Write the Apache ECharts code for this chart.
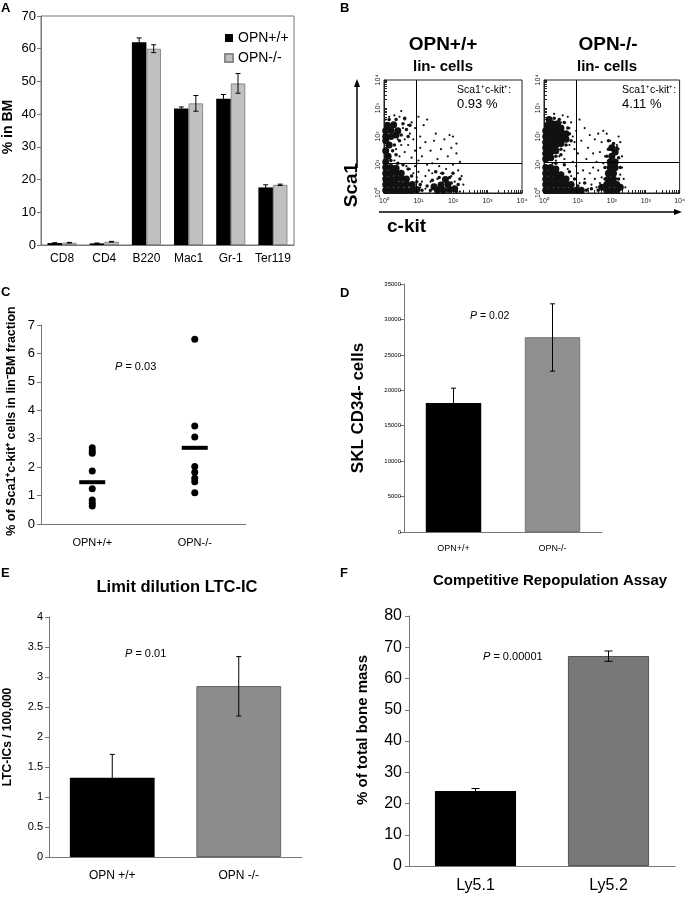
<!DOCTYPE html>
<html><head><meta charset="utf-8">
<script src="https://cdn.jsdelivr.net/npm/echarts@6/dist/echarts.min.js"></script>
<style>html,body{margin:0;padding:0;background:#fff}#c{width:688px;height:899px}</style>
</head><body><div id="c"></div>
<script>
const FONT = 'Liberation Sans, Arial, Helvetica, sans-serif';

// ---------- Panel A ----------
const aCategories = ['CD8','CD4','B220','Mac1','Gr-1','Ter119'];
const aWT = [0.6, 0.5, 62.0, 41.7, 44.7, 17.6];
const aKO = [0.7, 1.0, 60.0, 43.3, 49.4, 18.4];
const aWTErr = [0.1, 0.1, 1.3, 0.5, 1.3, 0.8];
const aKOErr = [0.1, 0.1, 1.2, 2.4, 3.0, 0.2];

// ---------- Panel B (flow cytometry, log10 decades) ----------
const flowTickLabels = ['10\u2070','10\u00b9','10\u00b2','10\u00b3','10\u2074'];
const gateX = [0.94, 0.94];
const gateY = [1.06, 1.09];
const flowWTCore = [
 [0.05,0.1],[0.2,0.1],[0.35,0.1],[0.5,0.1],[0.65,0.1],[0.8,0.1],[0.95,0.12],
 [0.05,0.3],[0.2,0.3],[0.35,0.3],[0.5,0.3],[0.65,0.32],[0.82,0.3],
 [0.05,0.5],[0.2,0.5],[0.35,0.5],[0.5,0.52],[0.65,0.5],
 [0.05,0.7],[0.2,0.7],[0.35,0.72],[0.5,0.7],
 [0.05,0.9],[0.2,0.9],[0.35,0.88],
 [0.05,1.1],[0.12,1.3],[0.05,1.5],[0.15,1.7],[0.05,1.85],
 [0.05,2.0],[0.2,2.0],[0.35,2.05],[0.05,2.2],[0.2,2.22],[0.4,2.2],[0.1,2.4],[0.28,2.42],
 [1.55,0.1],[1.72,0.1],[1.9,0.12],[2.05,0.15],[1.65,0.28],[1.85,0.3],[1.45,0.22],[1.78,0.48]
];
const flowWTMid = [
 [0.55,2.45],[0.65,2.25],[0.5,2.05],[0.7,2.0],[0.45,1.85],[0.3,1.7],[0.25,1.5],[0.35,1.35],[0.2,1.15],[0.4,1.05],
 [0.55,1.0],[0.7,0.85],[0.8,0.6],[0.95,0.4],[1.05,0.3],[1.1,0.1],[1.25,0.25],[1.35,0.1],[1.4,0.45],[1.6,0.55],
 [1.95,0.35],[2.1,0.05],[2.15,0.3],[1.9,0.55],[1.7,0.7],[2.0,0.7],[1.5,0.75],[2.2,0.5],[0.6,2.65],[0.35,2.6],
 [0.15,2.6],[0.75,2.4]
];
const flowWTSparse = [
 [0.6,2.6],[0.45,2.7],[0.3,2.75],[0.7,2.4],[0.55,2.3],[0.75,2.1],[0.6,1.9],[0.5,1.7],[0.35,1.55],[0.45,1.3],
 [0.3,1.15],[0.6,1.45],[0.7,1.7],[0.8,2.5],[0.9,2.3],[0.15,2.7],[0.05,2.6],[0.5,2.9],[0.85,1.9],[0.4,1.9],
 [1.0,2.7],[1.15,2.4],[1.25,2.6],[1.05,2.0],[1.2,1.8],[1.35,1.5],[1.1,1.3],[1.45,1.85],[1.55,1.2],[1.65,1.55],
 [1.75,1.9],[1.85,1.3],[1.95,1.6],[2.1,1.4],[2.2,1.1],[1.4,1.05],[1.6,0.95],[1.8,0.85],[2.0,1.0],[2.15,0.8],
 [2.25,0.6],[1.3,0.8],[1.2,0.6],[1.1,0.4],[1.0,0.75],[0.95,0.55],[1.05,0.2],[1.2,0.15],[1.35,0.4],[1.4,0.7],
 [2.3,0.3],[2.2,0.05],[1.55,0.5],[1.65,0.7],[1.95,0.6],[2.05,0.4],[0.9,0.95],[0.75,0.85],[0.65,0.95],[0.85,0.7],
 [1.0,1.15],[0.9,1.5],[1.05,1.6],[0.8,1.25],[2.0,2.0],[1.5,2.1],[1.9,2.05],[2.1,1.75],[0.95,1.05],[1.25,1.0]
];
const flowKOCore = [
 [0.05,0.1],[0.2,0.1],[0.35,0.1],[0.5,0.1],[0.65,0.1],[0.8,0.1],[0.95,0.1],[1.1,0.1],
 [0.05,0.3],[0.2,0.3],[0.35,0.3],[0.5,0.3],[0.65,0.3],[0.8,0.3],
 [0.05,0.5],[0.2,0.5],[0.35,0.5],[0.5,0.5],[0.65,0.5],
 [0.05,0.7],[0.2,0.7],[0.35,0.7],[0.5,0.65],
 [0.05,0.9],[0.2,0.9],[0.35,0.85],
 [0.05,1.2],[0.2,1.25],[0.05,1.4],[0.2,1.45],[0.35,1.5],[0.05,1.6],[0.2,1.65],[0.35,1.7],[0.5,1.75],
 [0.05,1.8],[0.2,1.85],[0.35,1.9],[0.5,1.95],[0.65,1.9],[0.05,2.0],[0.2,2.05],[0.35,2.1],[0.5,2.15],
 [0.65,2.1],[0.05,2.2],[0.2,2.25],[0.35,2.3],[0.5,2.3],[0.1,2.4],[0.25,2.45],[0.4,2.45],[0.15,2.6],
 [1.85,0.1],[2.0,0.1],[2.15,0.1],[1.85,0.3],[2.0,0.3],[2.15,0.3],[1.9,0.5],[2.05,0.5],[1.9,0.7],
 [2.05,0.7],[1.95,0.9],[2.1,0.9],[1.95,1.1],[2.1,1.1],[2.0,1.3],[2.1,1.45],[2.0,1.6],[1.7,0.2],[2.25,0.2]
];
const flowKOMid = [
 [0.6,2.5],[0.7,2.3],[0.75,2.1],[0.8,1.85],[0.65,1.7],[0.5,1.55],[0.35,1.3],[0.5,1.35],[0.6,1.0],[0.75,0.75],
 [0.9,0.5],[1.0,0.25],[1.25,0.1],[1.4,0.15],[1.2,0.35],[1.6,0.1],[1.8,0.5],[1.8,0.9],[1.85,1.3],[1.9,1.55],
 [2.2,0.5],[2.25,0.9],[2.2,1.25],[2.05,1.75],[1.9,1.85],[2.15,1.6],[0.45,2.6],[0.3,2.65],[0.35,1.05]
];
const flowKOSparse = [
 [0.7,2.7],[0.55,2.75],[0.3,2.8],[0.8,2.5],[0.75,2.3],[0.85,2.0],[0.75,1.7],[0.6,1.5],[0.45,1.3],[0.35,1.15],
 [0.6,1.2],[0.95,2.2],[0.9,1.8],[1.0,1.4],[0.85,1.1],[1.05,2.6],[1.2,2.3],[1.35,2.05],[1.5,1.9],[1.6,2.1],
 [1.7,1.8],[1.3,1.6],[1.45,1.4],[1.25,1.2],[1.55,1.1],[1.65,1.45],[1.75,2.2],[1.8,1.3],[1.75,1.05],[2.25,1.8],
 [2.3,1.3],[2.2,2.0],[1.85,2.1],[2.3,0.9],[2.35,0.5],[2.25,0.65],[1.6,0.8],[1.5,0.5],[1.4,0.3],[1.3,0.15],
 [1.2,0.5],[1.05,0.35],[1.15,0.8],[1.0,0.7],[0.95,0.95],[0.8,0.6],[0.7,0.85],[1.35,0.7],[1.7,0.55],[2.4,0.2],
 [1.45,0.9],[2.2,1.55],[0.9,1.55],[1.1,1.85],[0.5,2.5],[1.55,0.2],[1.65,0.35],[1.95,1.85],[2.15,1.7],[0.25,1.05]
];

// ---------- Panel C ----------
const cCategories = ['OPN+/+','OPN-/-'];
const cWT = [2.68, 2.57, 2.49, 1.86, 1.24, 0.84, 0.73, 0.63];
const cKO = [6.5, 3.45, 3.06, 2.02, 1.82, 1.61, 1.49, 1.10];
const cMeans = [1.47, 2.68];

// ---------- Panel D ----------
const dCategories = ['OPN+/+','OPN-/-'];
const dValues = [18200, 27500];
const dLow = [16100, 22700];
const dHigh = [20300, 32200];

// ---------- Panel E ----------
const eCategories = ['OPN +/+','OPN -/-'];
const eValues = [1.32, 2.85];
const eLow = [0.93, 2.35];
const eHigh = [1.71, 3.34];

// ---------- Panel F ----------
const fCategories = ['Ly5.1','Ly5.2'];
const fValues = [24.0, 67.2];
const fLow = [23.2, 65.5];
const fHigh = [24.8, 68.8];

// ---------- helpers ----------
const flowMinor = [];
[0,1,2,3].forEach(d => { for (let m = 1; m <= 9; m++) flowMinor.push(d + Math.log10(m)); });
flowMinor.push(4);

function errRender(offFrac, cap) {
  return function (params, api) {
    const x = api.value(0), lo = api.value(1), hi = api.value(2);
    const p1 = api.coord([x, lo]), p2 = api.coord([x, hi]);
    const bw = api.size([1, 0])[0];
    const cx = p1[0] + offFrac * bw;
    const st = { stroke: '#000', lineWidth: 1 };
    return { type: 'group', children: [
      { type: 'line', shape: { x1: cx, y1: p1[1], x2: cx, y2: p2[1] }, style: st },
      { type: 'line', shape: { x1: cx - cap, y1: p1[1], x2: cx + cap, y2: p1[1] }, style: st },
      { type: 'line', shape: { x1: cx - cap, y1: p2[1], x2: cx + cap, y2: p2[1] }, style: st }
    ]};
  };
}
function catX(gi, cats, fontSize, margin) {
  return { gridIndex: gi, type: 'category', data: cats,
    axisLine: { lineStyle: { color: '#777' } },
    axisTick: { length: 4, lineStyle: { color: '#777' } },
    axisLabel: { color: '#000', fontSize, margin, interval: 0, fontFamily: FONT },
    splitLine: { show: false } };
}
function valY(gi, max, interval, fontSize, margin) {
  return { gridIndex: gi, type: 'value', min: 0, max, interval,
    axisLine: { show: true, lineStyle: { color: '#777' } },
    axisTick: { show: true, length: 4, lineStyle: { color: '#777' } },
    axisLabel: { color: '#000', fontSize, margin, fontFamily: FONT, formatter: v => String(v) },
    splitLine: { show: false } };
}
function flowAxis(gi, isY) {
  return { gridIndex: gi, type: 'value', min: 0, max: 4, interval: 1,
    axisLine: { show: true, lineStyle: { color: '#222' } },
    axisTick: { show: true, inside: true, length: 3, customValues: flowMinor, lineStyle: { color: '#222' } },
    axisLabel: { color: '#222', fontSize: 7, margin: isY ? 2 : 5, rotate: isY ? 90 : 0,
      fontFamily: FONT, formatter: v => flowTickLabels[Math.round(v)] },
    splitLine: { show: false } };
}
function errData(lo, hi) { return lo.map((l, i) => [i, l, hi[i]]); }
function txt(x, y, text, font, opts) {
  return Object.assign({ type: 'text', x, y, style: Object.assign({ text, font, fill: '#000',
    textAlign: 'left', textVerticalAlign: 'middle' }, (opts && opts.style) || {}) },
    (opts && opts.rotation !== undefined) ? { rotation: opts.rotation } : {});
}
function ptxt(x, y, val, size) {
  return { type: 'text', x, y, style: { text: '{i|P} = ' + val, font: size + 'px ' + FONT, fill: '#000',
    textAlign: 'left', textVerticalAlign: 'middle', rich: { i: { fontStyle: 'italic', fontSize: size, fontFamily: FONT } } } };
}

const gateLine = (gi) => ({ symbol: 'none', silent: true, label: { show: false },
  lineStyle: { color: '#000', width: 1, type: 'solid' },
  data: [{ xAxis: gateX[gi] }, { yAxis: gateY[gi] }] });

const solid = { color: '#111', opacity: 1 };
function flowSeries(gi, data, size, extra) {
  return Object.assign({ type: 'scatter', xAxisIndex: gi, yAxisIndex: gi, data, symbolSize: size,
    itemStyle: solid, silent: true }, extra || {});
}

const option = {
  animation: false,
  textStyle: { fontFamily: FONT },
  grid: [
    { left: 41, top: 16, width: 253, height: 229, show: true, borderColor: '#777', borderWidth: 1 },
    { left: 384, top: 80, width: 138, height: 113, show: true, borderColor: '#222', borderWidth: 1 },
    { left: 544, top: 80, width: 139, height: 113, show: true, borderColor: '#222', borderWidth: 1 },
    { left: 41, top: 325, width: 205, height: 199 },
    { left: 404, top: 284, width: 198, height: 248 },
    { left: 49, top: 617, width: 253, height: 240 },
    { left: 409, top: 616, width: 266, height: 250 }
  ],
  xAxis: [
    catX(0, aCategories, 12, 8),
    flowAxis(1, false),
    flowAxis(2, false),
    catX(3, cCategories, 11, 13),
    catX(4, dCategories, 9, 12),
    catX(5, eCategories, 12, 13),
    catX(6, fCategories, 16, 12)
  ],
  yAxis: [
    valY(0, 70, 10, 13, 5),
    flowAxis(1, true),
    flowAxis(2, true),
    valY(3, 7, 1, 13, 6),
    valY(4, 35000, 5000, 6, 3),
    valY(5, 4, 0.5, 11, 6),
    valY(6, 80, 10, 16, 7)
  ],
  legend: {
    data: ['OPN+/+', 'OPN-/-'], orient: 'vertical', left: 219, top: 26,
    itemWidth: 8, itemHeight: 8, itemGap: 6, icon: 'rect',
    textStyle: { fontSize: 14, color: '#000', fontFamily: FONT }
  },
  series: [
    { name: 'OPN+/+', type: 'bar', xAxisIndex: 0, yAxisIndex: 0, data: aWT, barGap: '0%', barCategoryGap: '31%',
      itemStyle: { color: '#000' } },
    { name: 'OPN-/-', type: 'bar', xAxisIndex: 0, yAxisIndex: 0, data: aKO,
      itemStyle: { color: '#c0c0c0', borderColor: '#8a8a8a', borderWidth: 1 } },
    { name: 'errA1', type: 'custom', xAxisIndex: 0, yAxisIndex: 0, z: 5, renderItem: errRender(-0.1725, 2.5),
      data: errData(aWT.map((v, i) => v - aWTErr[i]), aWT.map((v, i) => v + aWTErr[i])) },
    { name: 'errA2', type: 'custom', xAxisIndex: 0, yAxisIndex: 0, z: 5, renderItem: errRender(0.1725, 2.5),
      data: errData(aKO.map((v, i) => v - aKOErr[i]), aKO.map((v, i) => v + aKOErr[i])) },

    flowSeries(1, flowWTCore, 7, { name: 'wtCore' }),
    flowSeries(1, flowWTMid, 3.5, { name: 'wtMid' }),
    flowSeries(1, flowWTSparse, 2.2, { name: 'wtSparse', markLine: gateLine(0) }),
    flowSeries(2, flowKOCore, 7, { name: 'koCore' }),
    flowSeries(2, flowKOMid, 3.5, { name: 'koMid' }),
    flowSeries(2, flowKOSparse, 2.2, { name: 'koSparse', markLine: gateLine(1) }),

    { name: 'cWT', type: 'scatter', xAxisIndex: 3, yAxisIndex: 3, data: cWT.map(v => [0, v]), symbolSize: 7,
      itemStyle: { color: '#000', opacity: 1 } },
    { name: 'cKO', type: 'scatter', xAxisIndex: 3, yAxisIndex: 3, data: cKO.map(v => [1, v]), symbolSize: 7,
      itemStyle: { color: '#000', opacity: 1 } },
    { name: 'cMean', type: 'scatter', xAxisIndex: 3, yAxisIndex: 3, data: cMeans.map((v, i) => [i, v]),
      symbol: 'rect', symbolSize: [26, 4], itemStyle: { color: '#000', opacity: 1 } },

    { name: 'dBar', type: 'bar', xAxisIndex: 4, yAxisIndex: 4, barCategoryGap: '44%',
      data: [{ value: dValues[0], itemStyle: { color: '#000' } },
             { value: dValues[1], itemStyle: { color: '#8f8f8f', borderColor: '#777', borderWidth: 1 } }] },
    { name: 'dErr', type: 'custom', xAxisIndex: 4, yAxisIndex: 4, z: 5, renderItem: errRender(0, 2.5),
      data: errData(dLow, dHigh) },

    { name: 'eBar', type: 'bar', xAxisIndex: 5, yAxisIndex: 5, barCategoryGap: '33%',
      data: [{ value: eValues[0], itemStyle: { color: '#000' } },
             { value: eValues[1], itemStyle: { color: '#8c8c8c', borderColor: '#666', borderWidth: 1 } }] },
    { name: 'eErr', type: 'custom', xAxisIndex: 5, yAxisIndex: 5, z: 5, renderItem: errRender(0, 2.5),
      data: errData(eLow, eHigh) },

    { name: 'fBar', type: 'bar', xAxisIndex: 6, yAxisIndex: 6, barCategoryGap: '39%',
      data: [{ value: fValues[0], itemStyle: { color: '#000' } },
             { value: fValues[1], itemStyle: { color: '#787878', borderColor: '#555', borderWidth: 1 } }] },
    { name: 'fErr', type: 'custom', xAxisIndex: 6, yAxisIndex: 6, z: 5, renderItem: errRender(0, 4),
      data: errData(fLow, fHigh) }
  ],
  graphic: [
    // panel letters
    txt(1, 8, 'A', 'bold 13px ' + FONT),
    txt(340, 8, 'B', 'bold 13px ' + FONT),
    txt(1, 292, 'C', 'bold 13px ' + FONT),
    txt(340, 293, 'D', 'bold 13px ' + FONT),
    txt(1, 573, 'E', 'bold 13px ' + FONT),
    txt(340, 573, 'F', 'bold 13px ' + FONT),
    // axis names
    txt(8, 127, '% in BM', 'bold 14px ' + FONT, { rotation: Math.PI / 2, style: { textAlign: 'center' } }),
    txt(12, 421, '% of Sca1\u207Ac-kit\u207A cells in lin\u207BBM fraction', 'bold 12.5px ' + FONT, { rotation: Math.PI / 2, style: { textAlign: 'center' } }),
    txt(358, 408, 'SKL CD34- cells', 'bold 17px ' + FONT, { rotation: Math.PI / 2, style: { textAlign: 'center' } }),
    txt(8, 737, 'LTC-ICs / 100,000', 'bold 12px ' + FONT, { rotation: Math.PI / 2, style: { textAlign: 'center' } }),
    txt(363, 730, '% of total bone mass', 'bold 15px ' + FONT, { rotation: Math.PI / 2, style: { textAlign: 'center' } }),
    // panel B titles
    txt(443, 45, 'OPN+/+', 'bold 19px ' + FONT, { style: { textAlign: 'center' } }),
    txt(443, 67, 'lin- cells', 'bold 15px ' + FONT, { style: { textAlign: 'center' } }),
    txt(608, 45, 'OPN-/-', 'bold 19px ' + FONT, { style: { textAlign: 'center' } }),
    txt(607, 67, 'lin- cells', 'bold 15px ' + FONT, { style: { textAlign: 'center' } }),
    txt(457, 90, 'Sca1\u207Ac-kit\u207A:', '10.5px ' + FONT),
    txt(457, 104, '0.93 %', '13px ' + FONT),
    txt(622, 90, 'Sca1\u207Ac-kit\u207A:', '10.5px ' + FONT),
    txt(622, 104, '4.11 %', '13px ' + FONT),
    // Sca1 / c-kit arrows
    txt(352, 185, 'Sca1', 'bold 19px ' + FONT, { rotation: Math.PI / 2, style: { textAlign: 'center' } }),
    { type: 'line', shape: { x1: 357, y1: 168, x2: 357, y2: 84 }, style: { stroke: '#000', lineWidth: 1.5 } },
    { type: 'polygon', shape: { points: [[357, 79], [354, 87], [360, 87]] }, style: { fill: '#000' } },
    { type: 'line', shape: { x1: 379, y1: 212, x2: 676, y2: 212 }, style: { stroke: '#000', lineWidth: 1.5 } },
    { type: 'polygon', shape: { points: [[682, 212], [674, 209], [674, 215]] }, style: { fill: '#000' } },
    txt(387, 227, 'c-kit', 'bold 19px ' + FONT),
    // titles E / F
    txt(177, 587, 'Limit dilution LTC-IC', 'bold 16.5px ' + FONT, { style: { textAlign: 'center' } }),
    txt(550, 581, 'Competitive Repopulation Assay', 'bold 15px ' + FONT, { style: { textAlign: 'center' } }),
    // P values
    ptxt(115, 367, '0.03', 11),
    ptxt(470, 316, '0.02', 10.5),
    ptxt(125, 654, '0.01', 11),
    ptxt(483, 657, '0.00001', 11)
  ]
};
const chart = echarts.init(document.getElementById('c'), null, { renderer: 'canvas' });
chart.setOption(option);
</script></body></html>
